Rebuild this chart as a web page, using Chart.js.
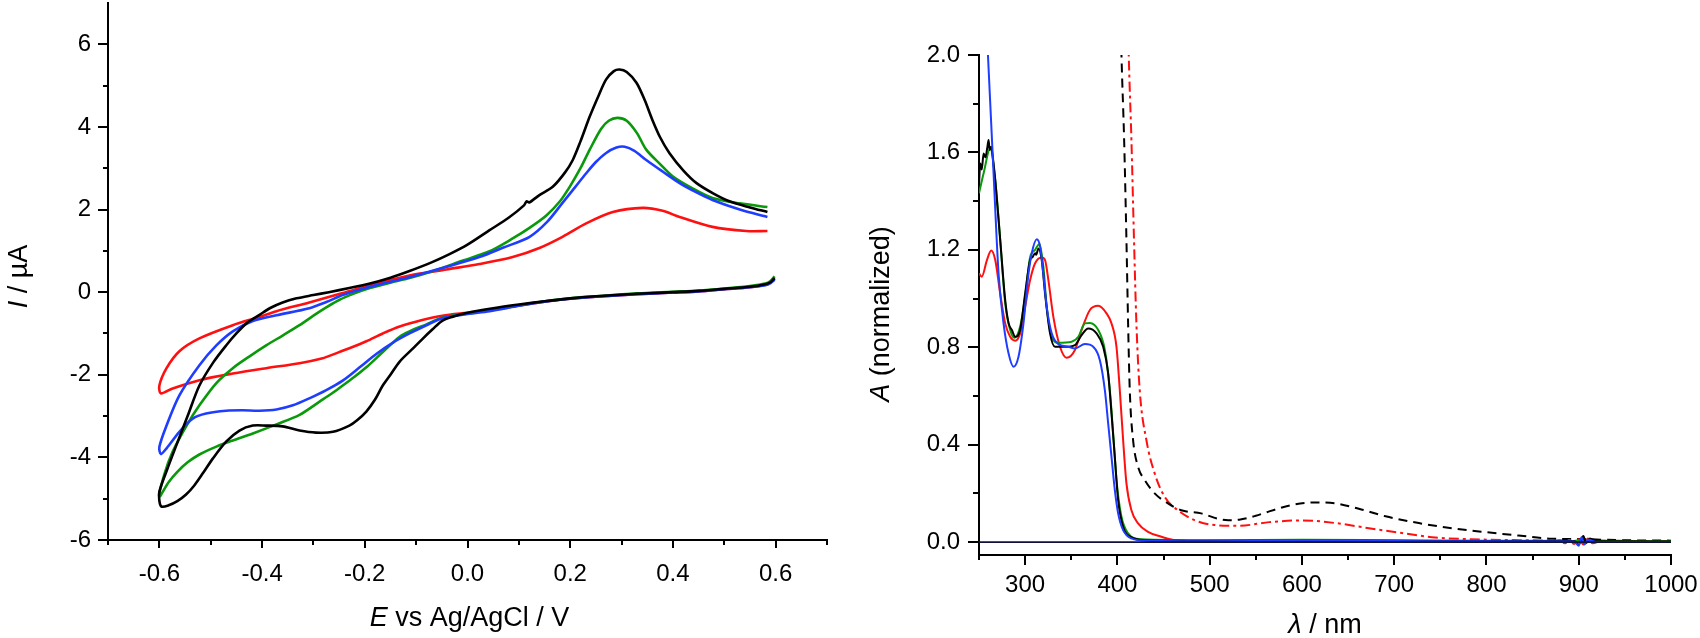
<!DOCTYPE html>
<html>
<head>
<meta charset="utf-8">
<script src="https://cdn.jsdelivr.net/npm/chart.js@4.4.1/dist/chart.umd.min.js"></script>
<style>
  html, body { margin: 0; padding: 0; background: #fff; }
  body { width: 1700px; height: 638px; position: relative; overflow: hidden; }
  canvas { position: absolute; top: 0; }
  #cv { left: 0; }
  #uv { left: 850px; }
</style>
</head>
<body>
<canvas id="cv" width="850" height="638"></canvas>
<canvas id="uv" width="850" height="638"></canvas>
<script>
// ---------------- DATA: cyclic voltammograms (E / V, I / µA) ----------------
// each loop: cathodic sweep 0.6 -> -0.6, then anodic sweep -0.6 -> 0.585
const cvBlack = [
  [0.598,0.34],[0.59,0.24],[0.58,0.19],[0.55,0.13],[0.5,0.08],[0.45,0.03],[0.4,0.0],[0.33,-0.04],[0.25,-0.1],[0.2,-0.15],
  [0.15,-0.22],[0.1,-0.3],[0.05,-0.39],[0.0,-0.5],[-0.03,-0.6],[-0.05,-0.7],[-0.068,-0.9],[-0.085,-1.1],[-0.105,-1.35],
  [-0.132,-1.68],[-0.15,-2.0],[-0.165,-2.26],[-0.18,-2.6],[-0.197,-2.89],[-0.215,-3.1],[-0.23,-3.23],[-0.262,-3.38],
  [-0.295,-3.4],[-0.327,-3.35],[-0.36,-3.25],[-0.392,-3.23],[-0.418,-3.23],[-0.444,-3.35],[-0.47,-3.62],[-0.496,-4.03],
  [-0.515,-4.38],[-0.532,-4.68],[-0.548,-4.9],[-0.565,-5.06],[-0.582,-5.16],[-0.596,-5.19],[-0.6,-5.05],
  [-0.6,-4.83],[-0.585,-4.3],[-0.567,-3.71],[-0.545,-3.0],[-0.522,-2.26],[-0.495,-1.7],[-0.47,-1.29],[-0.45,-1.0],
  [-0.43,-0.75],[-0.405,-0.55],[-0.385,-0.39],[-0.36,-0.25],[-0.333,-0.15],[-0.3,-0.07],[-0.27,0.0],[-0.23,0.1],
  [-0.19,0.21],[-0.15,0.35],[-0.113,0.51],[-0.07,0.72],[-0.035,0.92],[0.0,1.15],[0.043,1.5],[0.08,1.8],[0.11,2.1],
  [0.115,2.2],[0.12,2.17],[0.14,2.35],[0.166,2.55],[0.19,2.9],[0.205,3.2],[0.22,3.65],[0.238,4.25],[0.255,4.75],
  [0.27,5.15],[0.285,5.35],[0.296,5.39],[0.31,5.33],[0.329,5.07],[0.345,4.65],[0.36,4.17],[0.375,3.75],[0.393,3.37],
  [0.42,2.95],[0.446,2.64],[0.48,2.38],[0.51,2.2],[0.55,2.05],[0.584,1.94]
];
const cvGreen = [
  [0.598,0.38],[0.59,0.27],[0.58,0.21],[0.55,0.15],[0.5,0.09],[0.45,0.04],[0.4,0.01],[0.33,-0.03],[0.25,-0.1],[0.2,-0.15],
  [0.15,-0.22],[0.1,-0.32],[0.043,-0.44],[0.0,-0.52],[-0.049,-0.62],[-0.08,-0.78],[-0.113,-0.95],[-0.132,-1.08],
  [-0.165,-1.45],[-0.197,-1.82],[-0.22,-2.05],[-0.243,-2.26],[-0.265,-2.46],[-0.288,-2.65],[-0.327,-2.97],[-0.372,-3.2],
  [-0.418,-3.42],[-0.457,-3.59],[-0.489,-3.74],[-0.522,-3.93],[-0.545,-4.12],[-0.565,-4.35],[-0.582,-4.6],[-0.6,-4.95],
  [-0.59,-4.4],[-0.574,-3.86],[-0.547,-3.23],[-0.522,-2.74],[-0.489,-2.2],[-0.457,-1.84],[-0.425,-1.56],[-0.392,-1.29],
  [-0.36,-1.05],[-0.327,-0.8],[-0.3,-0.57],[-0.275,-0.37],[-0.25,-0.19],[-0.22,-0.03],[-0.19,0.1],[-0.15,0.23],
  [-0.113,0.34],[-0.07,0.5],[-0.01,0.76],[0.043,0.99],[0.088,1.3],[0.12,1.55],[0.153,1.85],[0.18,2.2],[0.199,2.55],
  [0.22,3.0],[0.238,3.45],[0.26,3.95],[0.275,4.15],[0.292,4.22],[0.31,4.15],[0.33,3.85],[0.348,3.45],[0.375,3.1],
  [0.4,2.8],[0.44,2.5],[0.477,2.28],[0.53,2.15],[0.584,2.06]
];
const cvBlue = [
  [0.598,0.3],[0.59,0.22],[0.58,0.17],[0.55,0.12],[0.5,0.07],[0.45,0.02],[0.4,-0.01],[0.33,-0.05],[0.25,-0.11],[0.2,-0.16],
  [0.15,-0.23],[0.1,-0.33],[0.043,-0.46],[0.0,-0.53],[-0.049,-0.63],[-0.08,-0.8],[-0.113,-1.0],[-0.145,-1.22],
  [-0.177,-1.49],[-0.21,-1.82],[-0.243,-2.14],[-0.275,-2.37],[-0.308,-2.57],[-0.34,-2.74],[-0.372,-2.84],[-0.405,-2.87],
  [-0.438,-2.86],[-0.47,-2.87],[-0.509,-2.94],[-0.535,-3.06],[-0.561,-3.38],[-0.586,-3.78],[-0.597,-3.92],
  [-0.6,-3.75],[-0.586,-3.23],[-0.561,-2.5],[-0.522,-1.77],[-0.489,-1.29],[-0.457,-0.95],[-0.418,-0.7],[-0.372,-0.56],
  [-0.308,-0.39],[-0.275,-0.24],[-0.243,-0.07],[-0.21,0.06],[-0.177,0.17],[-0.113,0.36],[-0.05,0.58],[0.023,0.85],
  [0.07,1.08],[0.121,1.34],[0.155,1.7],[0.185,2.16],[0.21,2.55],[0.232,2.89],[0.25,3.15],[0.27,3.37],[0.29,3.5],
  [0.306,3.52],[0.325,3.42],[0.348,3.2],[0.38,2.92],[0.413,2.64],[0.445,2.42],[0.477,2.23],[0.53,2.0],[0.584,1.82]
];
const cvRed = [
  [0.598,0.33],[0.59,0.23],[0.58,0.18],[0.55,0.12],[0.5,0.07],[0.45,0.02],[0.4,-0.01],[0.33,-0.05],[0.25,-0.11],[0.2,-0.16],
  [0.15,-0.23],[0.1,-0.32],[0.043,-0.44],[0.0,-0.5],[-0.049,-0.57],[-0.09,-0.68],[-0.132,-0.83],[-0.165,-1.0],
  [-0.197,-1.19],[-0.23,-1.36],[-0.26,-1.5],[-0.282,-1.6],[-0.327,-1.72],[-0.392,-1.84],[-0.457,-1.97],[-0.522,-2.13],
  [-0.574,-2.33],[-0.597,-2.45],
  [-0.6,-2.26],[-0.586,-1.84],[-0.561,-1.43],[-0.522,-1.12],[-0.457,-0.8],[-0.405,-0.6],[-0.372,-0.46],[-0.308,-0.25],
  [-0.243,-0.02],[-0.177,0.21],[-0.113,0.4],[-0.041,0.55],[0.023,0.68],[0.088,0.85],[0.14,1.07],[0.185,1.34],
  [0.232,1.67],[0.283,1.94],[0.341,2.04],[0.38,1.97],[0.413,1.82],[0.477,1.58],[0.543,1.48],[0.584,1.48]
];
const cvXTicks = [-0.6, -0.4, -0.2, 0.0, 0.2, 0.4, 0.6];
const cvXMinor = [-0.7, -0.5, -0.3, -0.1, 0.1, 0.3, 0.5, 0.7];
const cvYTicks = [-6, -4, -2, 0, 2, 4, 6];
const cvYMinor = [-5, -3, -1, 1, 3, 5];

// ---------------- DATA: UV-vis spectra (λ / nm, A normalized) ----------------
const uvBaseline = [[250,0.0],[1000,0.0]];
const uvBlue = [
  [253,2.53],[259.7,2.0],[265.8,1.514],[271.2,1.103],[276.6,0.898],[282,0.775],[287.4,0.72],[292.8,0.761],[298.2,0.898],
  [303.6,1.1],[307.2,1.186],[312.6,1.243],[316.2,1.213],[319.8,1.1],[323.4,0.966],[328.8,0.857],[336,0.813],[346.8,0.802],
  [354,0.795],[364.8,0.813],[373.8,0.802],[381,0.747],[386.4,0.624],[390,0.487],[393.6,0.35],[397.2,0.214],[400.8,0.118],
  [406.2,0.049],[415.2,0.015],[433,0.005],[500,0.003],[600,0.005],[700,0.004],[800,0.003],[895,0.002],[900,-0.015],
  [903,0.02],[906,-0.01],[910,0.01],[920,0.0],[1000,0.0]
];
const uvBlack = [
  [250,1.47],[251.4,1.555],[253,1.53],[255,1.596],[257,1.58],[259,1.62],[260.4,1.651],[261.5,1.61],[263.3,1.623],[265,1.58],
  [267.6,1.487],[273,1.24],[278.4,0.994],[282,0.9],[285.6,0.871],[289.2,0.843],[294.6,0.871],[300,1.02],[305.4,1.158],
  [308,1.17],[310.8,1.186],[312,1.18],[314.4,1.206],[318,1.158],[321.6,1.02],[327,0.857],[332.4,0.802],[343.2,0.802],
  [354,0.809],[361.2,0.85],[368.4,0.877],[377.4,0.857],[384.6,0.802],[390,0.693],[393.6,0.528],[397.2,0.35],[400.8,0.172],
  [406.2,0.063],[415,0.02],[430,0.008],[500,0.005],[600,0.006],[700,0.005],[800,0.004],[895,0.004],[900,-0.01],
  [905,0.025],[908,-0.005],[912,0.015],[920,0.003],[1000,0.002]
];
const uvGreen = [
  [250,1.432],[255,1.514],[262.2,1.617],[267.6,1.487],[273,1.24],[278.4,0.98],[283.8,0.871],[288.4,0.839],[294.6,0.885],
  [300,1.007],[305.4,1.17],[310.8,1.2],[315.5,1.224],[319.8,1.13],[323.4,0.966],[328.8,0.843],[336,0.819],[350.4,0.823],
  [357.6,0.843],[364.8,0.898],[370.2,0.9],[379.2,0.871],[386.4,0.789],[391.8,0.624],[395.4,0.446],[399,0.255],[404.4,0.104],
  [411.6,0.036],[425,0.012],[500,0.008],[600,0.01],[700,0.008],[800,0.006],[900,0.004],[1000,0.003]
];
const uvRed = [
  [250,1.103],[253,1.09],[258.6,1.158],[263.3,1.197],[267.6,1.158],[273,1.02],[278.4,0.898],[283.8,0.843],[289.2,0.827],
  [294.6,0.857],[300,0.966],[305.4,1.076],[310.8,1.145],[318,1.169],[321.6,1.158],[325.2,1.076],[330.6,0.925],[337.8,0.802],
  [345,0.757],[354,0.789],[361.2,0.871],[370.2,0.953],[379.2,0.97],[388.2,0.939],[393.6,0.898],[399,0.802],[402.6,0.624],
  [406.2,0.419],[409.8,0.241],[415.2,0.131],[422.4,0.077],[433.2,0.042],[447.6,0.022],[462,0.008],[500,0.004],[600,0.004],
  [700,0.003],[800,0.002],[870,0.0],[880,0.008],[885,-0.005],[890,0.01],[895,-0.008],[900,0.012],[905,-0.01],[910,0.015],
  [915,-0.005],[925,0.005],[1000,0.0]
];
const uvBlackDashed = [
  [403.5,2.15],[404.4,2.0],[407.3,1.651],[409.8,1.24],[411.6,0.898],[413.4,0.624],[417,0.419],[422.4,0.309],[429.6,0.255],
  [440.4,0.2],[454.8,0.159],[469.2,0.131],[490.8,0.118],[510,0.095],[520,0.09],[532,0.092],[550,0.108],[564.6,0.126],
  [589.7,0.153],[615,0.163],[636.6,0.159],[665.4,0.133],[690.6,0.106],[726.6,0.078],[762.5,0.057],[798.6,0.041],
  [834.6,0.027],[870.5,0.014],[906,0.012],[942,0.008],[1000,0.006]
];
const uvRedDashDot = [
  [411.5,2.15],[412.3,2.0],[415.2,1.651],[418,1.24],[420.6,0.898],[424.2,0.624],[431.4,0.419],[440.4,0.282],[451.2,0.186],
  [465.5,0.131],[483.6,0.09],[505.2,0.07],[532,0.067],[564.6,0.082],[600.5,0.089],[636.6,0.078],[672.6,0.057],
  [708.5,0.037],[744.6,0.019],[780.6,0.012],[834.6,0.008],[1000,0.004]
];
const uvXTicks = [300, 400, 500, 600, 700, 800, 900, 1000];
const uvXMinor = [250, 350, 450, 550, 650, 750, 850, 950];
const uvYTicks = [0.0, 0.4, 0.8, 1.2, 1.6, 2.0];
const uvYMinor = [0.2, 0.6, 1.0, 1.4, 1.8];

// ---------------- rendering ----------------
const FONT = '"Liberation Sans", Arial, sans-serif';
const TICK_SIZE = 24, TITLE_SIZE = 27;
Chart.defaults.font.family = FONT;
Chart.defaults.color = '#000';

const BLACK = '#000000', GREEN = '#0a990a', BLUE = '#1f3dff', RED = '#ff1010', NAVY = '#10103a';

function pts(arr) { return arr.map(p => ({ x: p[0], y: p[1] })); }
function line(arr, color, width, extra) {
  return Object.assign({
    data: pts(arr), showLine: true, borderColor: color, backgroundColor: color,
    borderWidth: width, pointRadius: 0, pointHoverRadius: 0, fill: false
  }, extra || {});
}

function fixSize(prop, size) {
  return function (s) {
    s[prop] = size;
    s.paddingTop = 0; s.paddingBottom = 0; s.paddingLeft = 0; s.paddingRight = 0;
  };
}
function setTicks(values) {
  return function (s) { s.ticks = values.map(v => ({ value: v })); };
}

function makeDecor(id, minor, titles) {
  return {
    id: id,
    afterDraw(chart) {
      const ctx = chart.ctx;
      const a = chart.chartArea;
      ctx.save();
      ctx.strokeStyle = '#000';
      ctx.lineWidth = 2;
      const xs = chart.scales.x, ys = chart.scales.y;
      minor.x.forEach(v => {
        const px = Math.round(xs.getPixelForValue(v));
        ctx.beginPath(); ctx.moveTo(px, a.bottom); ctx.lineTo(px, a.bottom + minor.xLen); ctx.stroke();
      });
      minor.y.forEach(v => {
        const py = Math.round(ys.getPixelForValue(v));
        ctx.beginPath(); ctx.moveTo(a.left, py); ctx.lineTo(a.left - minor.yLen, py); ctx.stroke();
      });
      ctx.restore();
      titles.forEach(t => {
        ctx.save();
        ctx.fillStyle = '#000';
        ctx.textBaseline = 'alphabetic';
        ctx.textAlign = 'left';
        const pos = t.pos(a);
        ctx.translate(pos[0], pos[1]);
        if (t.rotate) ctx.rotate(t.rotate);
        let total = 0;
        t.parts.forEach(p => { ctx.font = (p.italic ? 'italic ' : '') + t.size + 'px ' + FONT; total += ctx.measureText(p.text).width; });
        let cx = -total / 2;
        t.parts.forEach(p => {
          ctx.font = (p.italic ? 'italic ' : '') + t.size + 'px ' + FONT;
          ctx.fillText(p.text, cx, 0);
          cx += ctx.measureText(p.text).width;
        });
        ctx.restore();
      });
    }
  };
}

function axisCommon(tickLen, pad) {
  return {
    type: 'linear',
    grid: { drawOnChartArea: false, drawTicks: true, tickLength: tickLen, color: '#000', lineWidth: 2, tickWidth: 2 },
    border: { display: true, color: '#000', width: 2 },
    ticks: { color: '#000', font: { size: TICK_SIZE, family: FONT }, padding: pad, maxRotation: 0, autoSkip: false }
  };
}

// ---- left: cyclic voltammetry ----
const cvX = axisCommon(8, 12);
Object.assign(cvX, { min: -0.7, max: 0.7, afterBuildTicks: setTicks(cvXTicks), afterFit: fixSize('height', 98) });
cvX.ticks.callback = v => v.toFixed(1);
const cvY = axisCommon(10, 7);
Object.assign(cvY, { min: -6, max: 7, afterBuildTicks: setTicks(cvYTicks), afterFit: fixSize('width', 108) });
cvY.ticks.callback = v => String(v);

new Chart(document.getElementById('cv'), {
  type: 'scatter',
  data: {
    datasets: [
      line(cvBlack, BLACK, 2.6, { tension: 0.3 }),
      line(cvBlue, BLUE, 2.6, { tension: 0.3 }),
      line(cvGreen, GREEN, 2.6, { tension: 0.3 }),
      line(cvRed, RED, 2.6, { tension: 0.3 })
    ]
  },
  options: {
    responsive: false, animation: false, devicePixelRatio: 1,
    layout: { padding: { top: 3, right: 23, left: 0, bottom: 0 } },
    plugins: { legend: { display: false }, tooltip: { enabled: false } },
    scales: { x: cvX, y: cvY }
  },
  plugins: [makeDecor('cvDecor', { x: cvXMinor, y: cvYMinor, xLen: 5, yLen: 5 }, [
    { parts: [{ text: 'E', italic: true }, { text: ' vs Ag/AgCl / V' }], size: TITLE_SIZE, pos: a => [(a.left + a.right) / 2 + 2, a.bottom + 86] },
    { parts: [{ text: 'I', italic: true }, { text: ' / µA' }], size: TITLE_SIZE, rotate: -Math.PI / 2, pos: a => [a.left - 81, (a.top + a.bottom) / 2 + 5] }
  ])]
});

// ---- right: UV-vis ----
const uvX = axisCommon(10, 6);
Object.assign(uvX, { min: 250, max: 1000, afterBuildTicks: setTicks(uvXTicks), afterFit: fixSize('height', 83) });
uvX.ticks.callback = v => String(v);
const uvY = axisCommon(11, 8);
Object.assign(uvY, { min: -0.053, max: 2.0, afterBuildTicks: setTicks(uvYTicks), afterFit: fixSize('width', 129) });
uvY.ticks.callback = v => v.toFixed(1);

new Chart(document.getElementById('uv'), {
  type: 'scatter',
  data: {
    datasets: [
      line(uvBaseline, NAVY, 1.6),
      line(uvBlue, BLUE, 2, { cubicInterpolationMode: 'monotone' }),
      line(uvBlack, BLACK, 2, { cubicInterpolationMode: 'monotone' }),
      line(uvGreen, GREEN, 2, { cubicInterpolationMode: 'monotone' }),
      line(uvRed, RED, 2, { cubicInterpolationMode: 'monotone' }),
      line(uvBlackDashed, BLACK, 2, { cubicInterpolationMode: 'monotone', borderDash: [9, 6] }),
      line(uvRedDashDot, RED, 2, { cubicInterpolationMode: 'monotone', borderDash: [10, 4, 3, 4] })
    ]
  },
  options: {
    responsive: false, animation: false, devicePixelRatio: 1,
    layout: { padding: { top: 55, right: 29, left: 0, bottom: 0 } },
    plugins: { legend: { display: false }, tooltip: { enabled: false } },
    scales: { x: uvX, y: uvY }
  },
  plugins: [makeDecor('uvDecor', { x: uvXMinor, y: uvYMinor, xLen: 5, yLen: 6 }, [
    { parts: [{ text: 'λ', italic: true }, { text: ' / nm' }], size: TITLE_SIZE, pos: a => [(a.left + a.right) / 2, a.bottom + 78] },
    { parts: [{ text: 'A', italic: true }, { text: ' (normalized)' }], size: TITLE_SIZE, rotate: -Math.PI / 2, pos: a => [a.left - 90, (a.top + a.bottom) / 2 + 9] }
  ])]
});
</script>
</body>
</html>
